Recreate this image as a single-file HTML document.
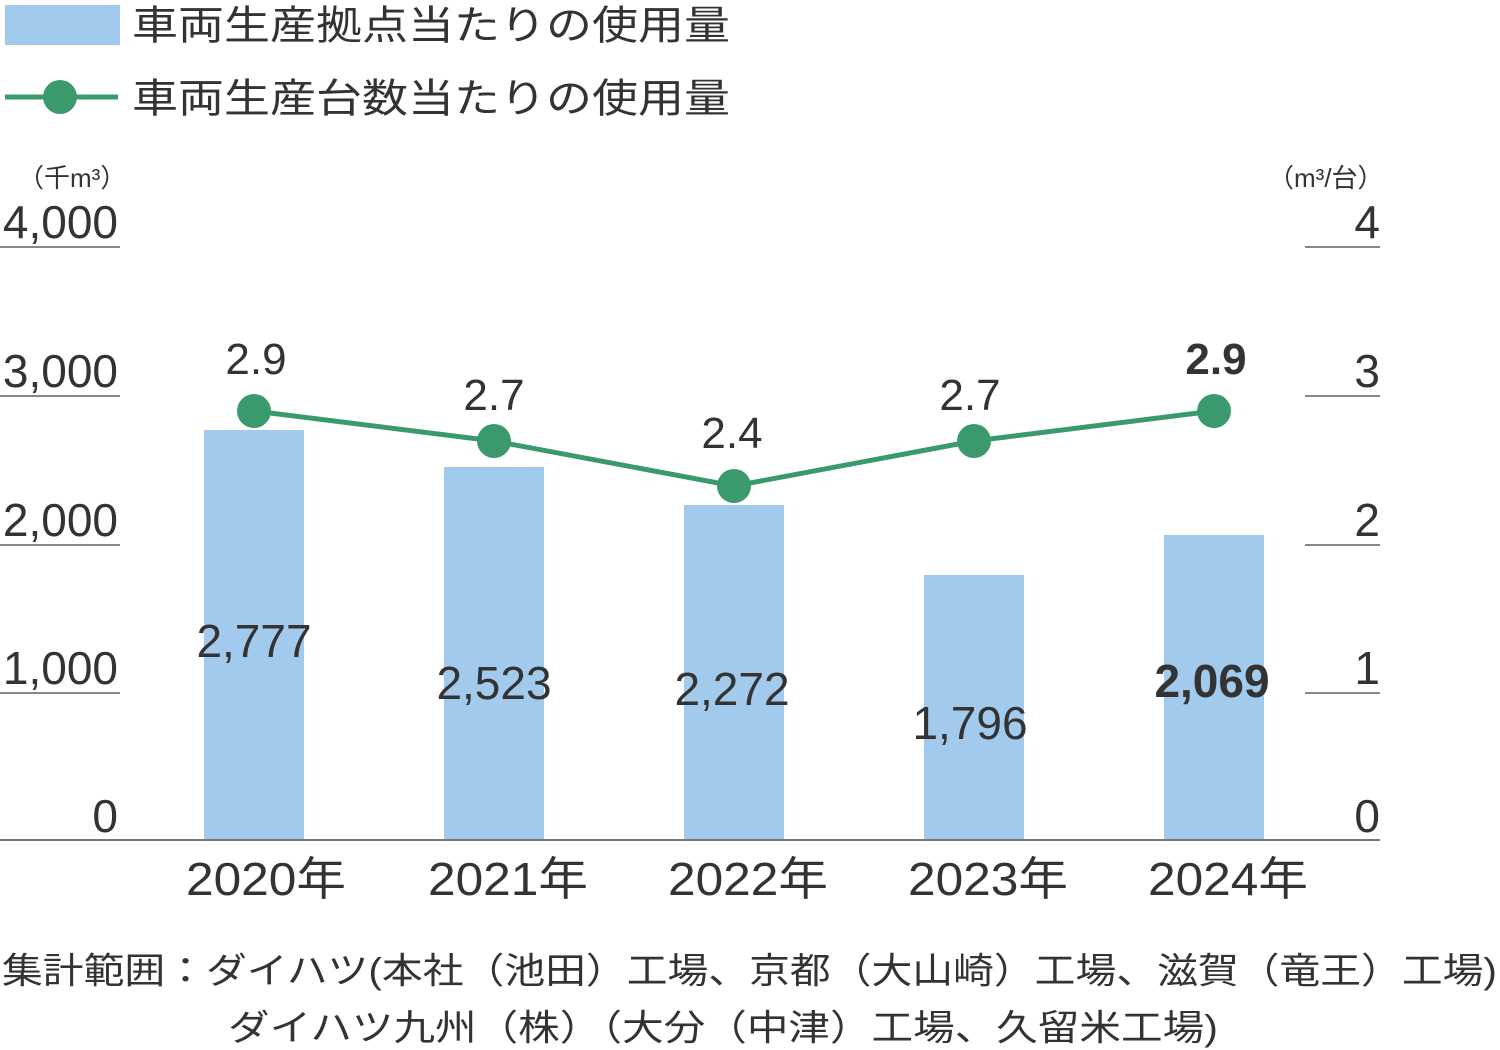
<!DOCTYPE html>
<html><head><meta charset="utf-8"><style>
html,body{margin:0;padding:0;background:#fff;}
svg{display:block;}
text{font-family:"Liberation Sans","Noto Sans CJK JP",sans-serif;fill:#333;}
</style></head><body>
<svg width="1500" height="1050" viewBox="0 0 1500 1050">
<rect x="5" y="5" width="115" height="40" fill="#a2caec"/>
<text x="132" y="39" font-size="40" textLength="598" lengthAdjust="spacingAndGlyphs">車両生産拠点当たりの使用量</text>
<line x1="5" y1="97" x2="118" y2="97" stroke="#3a9a6e" stroke-width="5"/>
<circle cx="60" cy="97" r="17" fill="#3a9a6e"/>
<text x="132" y="112" font-size="40" textLength="598" lengthAdjust="spacingAndGlyphs">車両生産台数当たりの使用量</text>

<text x="18" y="187" font-size="26">（千m³）</text>
<text x="1268" y="187" font-size="26">（m³/台）</text>

<g stroke="#888" stroke-width="2">
<line x1="0" y1="247" x2="120" y2="247"/>
<line x1="0" y1="396" x2="120" y2="396"/>
<line x1="0" y1="545" x2="120" y2="545"/>
<line x1="0" y1="693" x2="120" y2="693"/>
<line x1="1305" y1="247" x2="1380" y2="247"/>
<line x1="1305" y1="396" x2="1380" y2="396"/>
<line x1="1305" y1="545" x2="1380" y2="545"/>
<line x1="1305" y1="693" x2="1380" y2="693"/>
</g>
<g font-size="46" text-anchor="end">
<text x="118" y="238">4,000</text>
<text x="118" y="387">3,000</text>
<text x="118" y="536">2,000</text>
<text x="118" y="684">1,000</text>
<text x="118" y="832">0</text>
<text x="1380" y="238">4</text>
<text x="1380" y="387">3</text>
<text x="1380" y="536">2</text>
<text x="1380" y="684">1</text>
<text x="1380" y="832">0</text>
</g>

<g fill="#a2caec">
<rect x="204" y="430" width="100" height="410"/>
<rect x="444" y="467" width="100" height="373"/>
<rect x="684" y="505" width="100" height="335"/>
<rect x="924" y="575" width="100" height="265"/>
<rect x="1164" y="535" width="100" height="305"/>
</g>
<line x1="0" y1="840" x2="1380" y2="840" stroke="#777" stroke-width="2"/>

<g font-size="46" text-anchor="middle">
<text x="254" y="657">2,777</text>
<text x="494" y="699">2,523</text>
<text x="732" y="705">2,272</text>
<text x="970" y="739">1,796</text>
<text x="1212" y="697" font-weight="bold">2,069</text>
</g>

<polyline points="254,411 494,441 734,486 974,441 1214,411" fill="none" stroke="#3a9a6e" stroke-width="5"/>
<g fill="#3a9a6e">
<circle cx="254" cy="411" r="17"/><circle cx="494" cy="441" r="17"/><circle cx="734" cy="486" r="17"/><circle cx="974" cy="441" r="17"/><circle cx="1214" cy="411" r="17"/>
</g>
<g font-size="44" text-anchor="middle">
<text x="256" y="374">2.9</text>
<text x="494" y="410">2.7</text>
<text x="732" y="448">2.4</text>
<text x="970" y="410">2.7</text>
<text x="1216" y="374" font-weight="bold">2.9</text>
</g>

<g font-size="46" text-anchor="middle">
<text x="266" y="895" textLength="160" lengthAdjust="spacingAndGlyphs">2020年</text>
<text x="508" y="895" textLength="160" lengthAdjust="spacingAndGlyphs">2021年</text>
<text x="748" y="895" textLength="160" lengthAdjust="spacingAndGlyphs">2022年</text>
<text x="988" y="895" textLength="160" lengthAdjust="spacingAndGlyphs">2023年</text>
<text x="1228" y="895" textLength="160" lengthAdjust="spacingAndGlyphs">2024年</text>
</g>
<text x="2" y="983" font-size="36" textLength="1495" lengthAdjust="spacingAndGlyphs">集計範囲：ダイハツ(本社（池田）工場、京都（大山崎）工場、滋賀（竜王）工場)</text>
<text x="228" y="1040" font-size="36" textLength="990" lengthAdjust="spacingAndGlyphs">ダイハツ九州（株）（大分（中津）工場、久留米工場)</text>
</svg>
</body></html>
